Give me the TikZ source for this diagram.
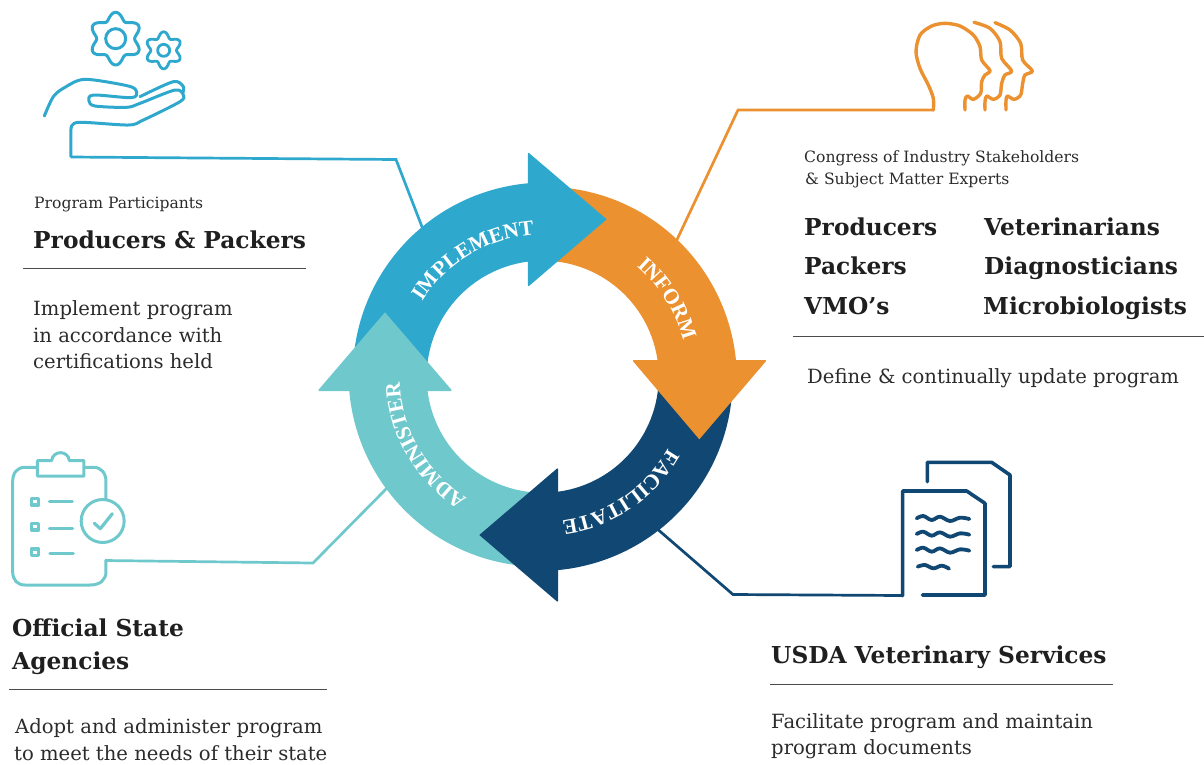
\documentclass[tikz,border=0pt]{standalone}
\usepackage{fontspec}
\setmainfont{DejaVu Serif}
\newfontfamily\ringfont{Liberation Serif}
\usetikzlibrary{decorations.text}
\definecolor{cblue}{HTML}{2FA8CE}
\definecolor{corange}{HTML}{EB9130}
\definecolor{cnavy}{HTML}{114873}
\definecolor{cteal}{HTML}{6FC8CC}
\definecolor{ctext}{HTML}{2B2B2B}
\newcommand{\cxx}{542.7}
\newcommand{\cyy}{376.7}
\newcommand{\rout}{194}
\newcommand{\rinn}{116}
% ring body: start outer, end outer, start inner, end inner angles; the outer radius narrows towards the tail
\newcommand{\ringbody}[5]{%
 \fill[#1] plot[domain=#2:#3,samples=60] ({\cxx+(\rout-4*(\x-(#2))/((#3)-(#2)))*cos(\x)},{\cyy+(\rout-4*(\x-(#2))/((#3)-(#2)))*sin(\x)})
   -- plot[domain=#5:#4,samples=60] ({\cxx+\rinn*cos(\x)},{\cyy+\rinn*sin(\x)}) -- cycle;}
\newcommand{\ringlabel}[3]{%
 \path[decorate,decoration={text along path,text align=center,text={|\ringfont\fontsize{21.5}{21.5}\selectfont\bfseries\color{white}|#1}}]
   plot[domain=#2-50:#2+50,samples=60] ({\cxx+#3*cos(\x)},{\cyy+#3*sin(\x)});}
\tikzset{
 txt/.style={anchor=base west,inner sep=0pt,text=ctext,font=\fontsize{19.6}{19.6}\selectfont},
 small/.style={txt,font=\fontsize{15.6}{15.6}\selectfont},
 head/.style={txt,text=black!88,font=\fontsize{23.3}{23.3}\selectfont\bfseries},
 icon/.style={line width=#1,line cap=round,line join=round},
 link/.style={line width=2.7pt,line join=miter},
 rulel/.style={draw=black!70,line width=0.9pt},
 zoomed/.style={x=0.33333pt,y=-0.33333pt},
}
\begin{document}
\begin{tikzpicture}[x=1pt,y=-1pt]
\useasboundingbox (0,0) rectangle (1204,764);
% connector ends
\coordinate (hw) at (71,157);
\coordinate (hk) at (396,159.5);
\coordinate (he) at (424,232);
\coordinate (ow) at (934,110);
\coordinate (ok) at (738,110);
\coordinate (oe) at (674,246);
\coordinate (tw) at (105,560.5);
\coordinate (tk) at (313,563);
\coordinate (te) at (390,485);
\coordinate (nw) at (903,595.5);
\coordinate (nk) at (733,594.5);
\coordinate (ne) at (655,527);
\draw[link,cblue] (hw) -- (hk) -- (he);
\draw[link,corange] (ow) -- (ok) -- (oe);
\draw[link,cteal] (tw) -- (tk) -- (te);
\draw[link,cnavy] (nw) -- (nk) -- (ne);
% ring
\ringbody{cblue}{-94.3}{-175}{-97.1}{-175}
\ringbody{cteal}{176.1}{93}{173.4}{93}
\fill[cteal] (385,312.3) [rounded corners=2pt] -- (317.5,391) -- (452.5,391) [sharp corners] -- cycle;
\ringbody{cnavy}{85.7}{3}{82.8}{3}
\fill[cnavy] (479.3,535) [rounded corners=2pt] -- (558.2,467.5) -- (558.2,602.5) [sharp corners] -- cycle;
\ringbody{corange}{-4.7}{-87}{-7.9}{-87}
\fill[corange] (699.3,439.3) [rounded corners=2pt] -- (767,360) -- (632,360) [sharp corners] -- cycle;
\fill[cblue] (606.7,219.3) [rounded corners=2pt] -- (527.8,152) -- (527.8,287) [sharp corners] -- cycle;
\ringlabel{IMPLEMENT}{-120.6}{142}
\ringlabel{INFORM}{-32}{145}
\ringlabel{FACILITATE}{56}{145}
\ringlabel{ADMINISTER}{150}{143}
% hand icon
\begin{scope}[zoomed]
\draw[icon=3pt,cblue] plot[domain=0:360,samples=145,smooth] ({347+(68+11*cos(6*\x+180))*cos(\x)},{116+(68+11*cos(6*\x+180))*sin(\x)}) -- cycle;
\draw[icon=3pt,cblue] (347,116) circle[radius=10pt];
\draw[icon=2.8pt,cblue] plot[domain=0:360,samples=145,smooth] ({491+(47+8.5*cos(6*\x+180))*cos(\x)},{151+(47+8.5*cos(6*\x+180))*sin(\x)}) -- cycle;
\draw[icon=2.8pt,cblue] (491,151) circle[radius=6pt];
\draw[icon=3pt,cblue] plot[smooth,tension=0.5] coordinates {(133,348) (160,290) (195,262) (255,238) (385,258) (410,275) (395,293) (280,285) (267,303) (285,318) (380,322) (420,310) (525,270) (550,285) (540,305) (430,360) (385,375) (235,367) (213,387)} -- (213,470);
\draw[icon=3pt,cblue] plot[smooth,tension=0.5] coordinates {(420,290) (520,245) (550,260) (548,280)};
\end{scope}
% heads icon
\begin{scope}[shift={(890,10)},zoomed]
\draw[icon=3.4pt,corange] plot[smooth,tension=0.5] coordinates {(130,300) (130,265) (115,225) (90,175) (78,125) (90,75) (125,48) (165,40) (210,48) (250,75) (270,110) (275,150) (300,182) (285,195) (275,215) (272,250) (250,268) (232,258) (225,270) (225,300)};
\draw[icon=3.4pt,corange] plot[smooth,tension=0.5] coordinates {(252,37) (300,55) (330,95) (335,145) (365,183) (345,195) (335,220) (330,255) (310,268) (290,258) (285,275) (285,300)};
\draw[icon=3.4pt,corange] plot[smooth,tension=0.5] coordinates {(315,38) (360,60) (392,100) (398,150) (427,183) (405,195) (398,220) (392,255) (372,268) (352,258) (348,272) (348,300)};
\end{scope}
% clipboard icon
\begin{scope}[shift={(0,440)},zoomed]
\draw[icon=3pt,cteal] (110,82) -- (75,82) .. controls (50,82) and (38,100) .. (38,125) -- (38,395) .. controls (38,420) and (52,435) .. (75,435) -- (270,435) .. controls (300,435) and (318,420) .. (318,395) -- (318,360);
\draw[icon=3pt,cteal] (255,82) -- (280,82) .. controls (305,82) and (318,100) .. (318,125) -- (318,178);
\draw[icon=3pt,cteal] (112,62) -- (155,62) .. controls (158,30) and (205,30) .. (208,62) -- (252,62) -- (252,108) -- (112,108) -- cycle;
\draw[icon=3pt,cteal] (308,243) circle[radius=21.5pt];
\draw[icon=3.2pt,cteal] (283,250) -- (301,266) -- (337,221);
\foreach \yy in {185,260,337}{\draw[icon=3.6pt,cteal] (95,\yy-10) rectangle (115,\yy+10);}
\draw[icon=3.2pt,cteal] (148,185) -- (217,185);
\draw[icon=3.2pt,cteal] (148,265) -- (218,265);
\draw[icon=3.2pt,cteal] (150,340) -- (220,340);
\end{scope}
% documents icon
\begin{scope}[shift={(880,450)},zoomed]
\draw[icon=3.6pt,cnavy] (142,95) -- (142,37) -- (335,37) -- (390,75) -- (390,350) -- (340,350);
\draw[icon=3.6pt,cnavy] (68,437) -- (68,123) -- (260,123) -- (315,160) -- (315,435) -- (127,435);
\foreach \yy in {0,47,95}{\draw[icon=3.8pt,cnavy] plot[smooth,tension=0.6] coordinates {(110,205+\yy) (130,198+\yy) (155,210+\yy) (180,200+\yy) (210,213+\yy) (240,203+\yy) (268,207+\yy)};}
\draw[icon=3.8pt,cnavy] plot[smooth,tension=0.6] coordinates {(113,350) (135,345) (160,355) (185,347) (207,356)};
\end{scope}
% texts
\node[small] (a1) at (34,208.5) {Program Participants};
\node[head] (a2) at (33,248) {Producers \& Packers};
\draw[rulel] (23,268) -- (306,268);
\node[txt] (a3) at (33,315.5) {Implement program};
\node[txt] (a4) at (33,342.5) {in accordance with};
\node[txt] (a5) at (33,368.5) {certifications held};
\node[small] (b1) at (804,162.5) {Congress of Industry Stakeholders};
\node[small] (b2) at (805,184.5) {\& Subject Matter Experts};
\node[head] (b3) at (804,235) {Producers};
\node[head] (b4) at (804,274) {Packers};
\node[head] (b5) at (804,314) {VMO’s};
\node[head] (b6) at (984,235) {Veterinarians};
\node[head] (b7) at (984,274) {Diagnosticians};
\node[head] (b8) at (983,314) {Microbiologists};
\draw[rulel] (793,336) -- (1204,336);
\node[txt] (b9) at (807,383.5) {Define \& continually update program};
\node[head] (c1) at (12,636) {Official State};
\node[head] (c2) at (12,669) {Agencies};
\draw[rulel] (9,689) -- (327,689);
\node[txt] (c3) at (15,733.5) {Adopt and administer program};
\node[txt] (c4) at (14,760.5) {to meet the needs of their state};
\node[head] (d1) at (771,663) {USDA Veterinary Services};
\draw[rulel] (770,684) -- (1113,684);
\node[txt] (d2) at (771,728.5) {Facilitate program and maintain};
\node[txt] (d3) at (771,754.5) {program documents};
\end{tikzpicture}
\end{document}
